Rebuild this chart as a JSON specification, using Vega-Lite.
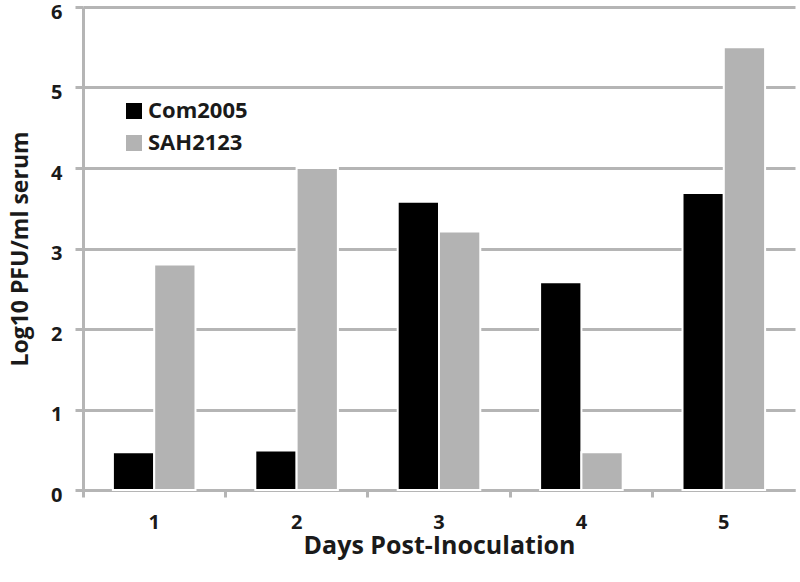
{
  "$schema": "https://vega.github.io/schema/vega-lite/v6.json",
  "width": 712,
  "height": 483,
  "autosize": {"type": "none"},
  "padding": {"left": 83, "top": 7, "right": 5, "bottom": 92},
  "background": "white",
  "config": {
    "view": {"stroke": null},
    "font": "Open Sans",
    "axis": {
      "domainColor": "#b5b5b5",
      "domainWidth": 3,
      "tickColor": "#b5b5b5",
      "tickWidth": 3,
      "gridColor": "#b5b5b5",
      "gridWidth": 3,
      "labelFont": "Open Sans",
      "labelFontWeight": "bold",
      "labelFontSize": 20,
      "labelColor": "#1a1a1a",
      "titleFont": "Open Sans",
      "titleFontWeight": "bold",
      "titleFontSize": 25,
      "titleColor": "#1a1a1a"
    }
  },
  "data": {
    "values": [
      {"day": "1", "strain": "Com2005", "value": 0.47},
      {"day": "1", "strain": "SAH2123", "value": 2.8},
      {"day": "2", "strain": "Com2005", "value": 0.49},
      {"day": "2", "strain": "SAH2123", "value": 4.0},
      {"day": "3", "strain": "Com2005", "value": 3.58},
      {"day": "3", "strain": "SAH2123", "value": 3.21},
      {"day": "4", "strain": "Com2005", "value": 2.58},
      {"day": "4", "strain": "SAH2123", "value": 0.47},
      {"day": "5", "strain": "Com2005", "value": 3.69},
      {"day": "5", "strain": "SAH2123", "value": 5.5}
    ]
  },
  "resolve": {"axis": {"x": "independent"}},
  "layer": [
    {
      "mark": {"type": "bar", "stroke": "white", "strokeWidth": 2},
      "encoding": {
        "x": {
          "field": "day",
          "type": "ordinal",
          "scale": {"paddingInner": 0.42, "paddingOuter": 0.21},
          "axis": {
            "orient": "bottom",
            "labelAngle": 0,
            "ticks": false,
            "tickSize": 0,
            "domain": false,
            "grid": false,
            "labelPadding": 22,
            "title": "Days Post-Inoculation",
            "titlePadding": 1
          }
        },
        "xOffset": {"field": "strain", "sort": ["Com2005", "SAH2123"]},
        "y": {
          "field": "value",
          "type": "quantitative",
          "scale": {"domain": [0, 6]},
          "axis": {
            "values": [0, 1, 2, 3, 4, 5, 6],
            "tickSize": 8,
            "labelPadding": 13,
            "labelOffset": 5,
            "grid": true,
            "title": "Log10 PFU/ml serum",
            "titleFontSize": 23,
            "titlePadding": 18
          }
        },
        "color": {
          "field": "strain",
          "type": "nominal",
          "scale": {"domain": ["Com2005", "SAH2123"], "range": ["#000000", "#b3b3b3"]},
          "legend": {
            "title": null,
            "orient": "none",
            "legendX": 40,
            "legendY": 93,
            "symbolType": "square",
            "symbolSize": 256,
            "symbolStrokeWidth": 0,
            "symbolOpacity": 1,
            "labelFont": "Open Sans",
            "labelFontWeight": "bold",
            "labelFontSize": 22,
            "labelColor": "#1a1a1a",
            "labelOffset": 3,
            "rowPadding": 10
          }
        }
      }
    },
    {
      "mark": {"type": "tick", "opacity": 0},
      "encoding": {
        "x": {
          "field": "day",
          "type": "ordinal",
          "axis": {
            "orient": "bottom",
            "bandPosition": -0.362,
            "labels": false,
            "ticks": true,
            "tickSize": 7,
            "domain": true,
            "grid": false,
            "title": null
          }
        }
      }
    }
  ]
}
